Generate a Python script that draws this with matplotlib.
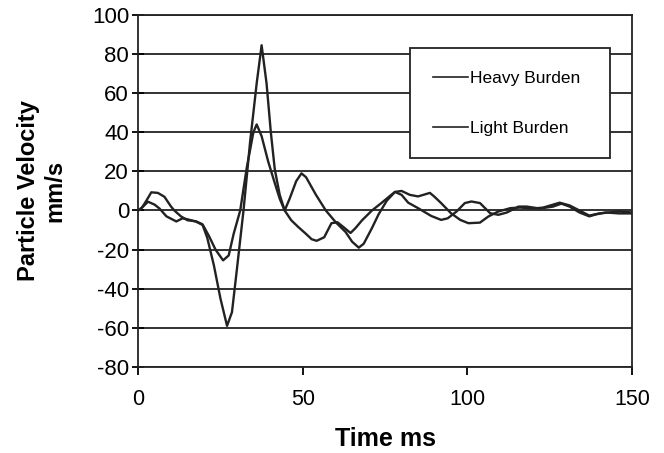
import matplotlib
matplotlib.use("Agg")
import matplotlib.pyplot as plt

plt.rcParams['font.family'] = ['Liberation Sans', 'DejaVu Sans']
plt.rcParams['axes.unicode_minus'] = False

# Heavy burden trace (time ms, velocity mm/s)
heavy_t = [0, 1, 2.5, 4, 6, 8, 10, 11, 13, 15, 17.5, 19.5, 21, 23, 25, 27, 28.5, 30,
           32, 34, 36, 37.5, 39, 40.3, 41.5, 43, 44.5, 46, 48, 49.6, 51, 54, 57, 60,
           63, 65, 67, 68.5, 71, 73, 75.5, 78, 80, 82.5, 85, 88.6, 90, 92, 95, 97.8,
           100.3, 103.8, 106.4, 109.4, 113, 116, 120, 123, 128, 131, 134, 137, 140,
           143, 146, 150]
heavy_v = [0, 1, 5, 9.3, 9, 7, 2, 0, -3, -5, -5.5, -7, -14, -28, -45, -59, -52, -30,
           0, 35, 65, 84.5, 65, 40, 21, 8, 0, 6, 15, 19, 17, 8, 0, -6,
           -11, -16, -19, -17, -9, -2, 5, 9.5, 10, 8, 7.2, 9, 7, 3.8, -1.4, -4.8,
           -6.5, -6.2, -3, -0.5, 1.2, 1.5, 1, 1.5, 4, 2.6, 0, -2.6, -1.5,
           -1, -0.5, -1]

# Light burden trace
light_t = [0, 1.5, 3, 5, 6.5, 8.6, 11.6, 13.5, 15, 17.6, 19.7, 21.5, 23.5, 25.8, 27.5,
           29, 31, 33, 35, 36, 37.5, 39.5, 41.5, 43, 44.5, 46.5, 48.6, 51, 52.7, 54.2,
           56.5, 58.7, 60.5, 62, 64.5, 66, 68, 71, 74, 76.5, 78, 80, 82, 85, 89, 92,
           94, 96.7, 99.2, 101.2, 103.8, 106.9, 109.4, 112, 115.5, 118, 122, 126,
           128.5, 131, 134, 137, 139, 142, 146, 150]
light_v = [0, 2, 4.5, 3, 1, -3, -5.6, -4, -4.5, -5.7, -7.5, -13, -20, -25.5, -23,
           -12, 0, 22, 40, 44, 38, 25, 14, 6, 0, -5, -8.4, -12, -14.7, -15.5,
           -13.7, -6.5, -6, -8, -11.5, -9, -5, 0, 4, 7.5, 9.5, 8, 4, 1.2, -2.8, -4.8,
           -4, -0.5, 3.8, 4.6, 3.8, -1.4, -2.2, -1, 2, 2, 1, 2,
           3.5, 2, -1, -3, -2, -1, -1.5, -1.5]

x_ticks = [0, 50, 100, 150]
y_ticks = [-80, -60, -40, -20, 0, 20, 40, 60, 80, 100]

fig = plt.figure(figsize=(6.64, 4.53), dpi=100)
ax = fig.add_axes([0.208, 0.190, 0.744, 0.777])

ax.plot(heavy_t, heavy_v, color='#222222', lw=1.7, label='Heavy Burden')
ax.plot(light_t, light_v, color='#222222', lw=1.7, label='Light Burden')

ax.set_xlim(0, 150)
ax.set_ylim(-80, 100)
ax.set_xticks(x_ticks)
ax.set_yticks(y_ticks)
ax.yaxis.grid(True, color='#222222', lw=1.3)
ax.set_axisbelow(True)
for s in ax.spines.values():
    s.set_color('#222222')
    s.set_linewidth(1.3)

ax.tick_params(axis='y', direction='inout', length=9, width=1.3, labelsize=16, pad=2)
ax.tick_params(axis='x', direction='out', length=6, width=1.3, labelsize=15.5, pad=10)

ax.set_xlabel('Time ms', fontsize=18, fontweight='bold', labelpad=12)
ax.set_ylabel('Particle Velocity\nmm/s', fontsize=17, fontweight='bold', labelpad=18)

leg = ax.legend(loc='upper left', bbox_to_anchor=(0.551, 0.0, 0.405, 0.906),
                mode='expand', borderaxespad=0, fontsize=12.5, handlelength=2.0,
                handletextpad=0.15, labelspacing=2.0, borderpad=1.3, fancybox=False,
                framealpha=1, edgecolor='#222222')
leg.get_frame().set_linewidth(1.3)
for line in leg.get_lines():
    line.set_linewidth(1.2)

fig.savefig('out.png', dpi=100)
